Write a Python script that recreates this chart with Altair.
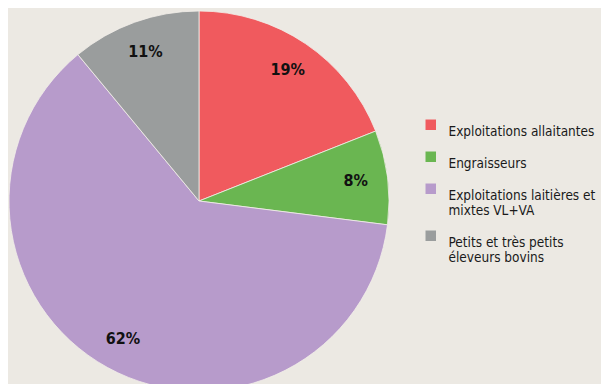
import altair as alt
import pandas as pd

categories = ["Exploitations allaitantes", "Engraisseurs",
              "Exploitations laitières et|mixtes VL+VA",
              "Petits et très petits|éleveurs bovins"]
values = [19, 8, 62, 11]
labels = ["19%", "8%", "62%", "11%"]
colors = ["#F05A5E", "#6AB651", "#B79BCB", "#9A9D9D"]

df = pd.DataFrame({"cat": categories, "val": values, "lab": labels,
                   "ord": list(range(len(values)))})

FONT = "DejaVu Sans Condensed"

base = alt.Chart(df).encode(
    theta=alt.Theta("val:Q", stack=True),
    order=alt.Order("ord:Q"),
)

pie = base.mark_arc(radius=190, stroke="#F2EFEA", strokeWidth=0.8).encode(
    x=alt.value(191), y=alt.value(193),
    color=alt.Color("cat:N", sort=categories,
                    scale=alt.Scale(domain=categories, range=colors),
                    legend=alt.Legend(
                        title=None, orient="none", legendX=416, legendY=110,
                        symbolType="square", symbolSize=110, symbolStrokeWidth=0,
                        labelFont=FONT, labelFontSize=13.5, labelColor="#1a1a1a",
                        labelOffset=11, rowPadding=11, labelLimit=400,
                        labelExpr="split(datum.label, '|')",
                        labelBaseline="top", symbolOffset=0,
                    )),
)

text = base.mark_text(radius=158, font=FONT, fontWeight="bold", fontSize=16,
                      color="#111111").encode(
    x=alt.value(191), y=alt.value(193),
    text="lab:N",
)

chart = (pie + text).properties(
    width=593, height=376, padding=0, background="#ECE9E3",
    autosize=alt.AutoSizeParams(type="none"),
).configure_view(stroke=None)

chart.save("out.html", embed_options={"renderer": "svg", "actions": False})
